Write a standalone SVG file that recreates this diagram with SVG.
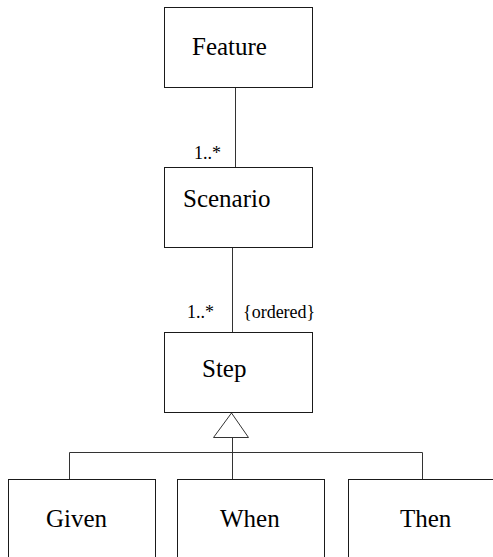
<svg xmlns="http://www.w3.org/2000/svg" width="493" height="557" viewBox="0 0 493 557">
  <style>
    .box { fill: #ffffff; stroke: #1a1a1a; stroke-width: 1; }
    .name { font-family: 'Liberation Serif', serif; font-size: 25px; fill: #000000; }
    .label { font-family: 'Liberation Serif', serif; font-size: 18px; fill: #000000; }
    .link { fill: none; stroke: #333333; stroke-width: 1; }
  </style>
  <rect width="493" height="557" fill="#ffffff"/>

  <g id="connectors">
    <!-- Feature to Scenario association -->
    <line class="link" x1="235.5" y1="87" x2="235.5" y2="168"/>
    <!-- Scenario to Step association -->
    <line class="link" x1="232.5" y1="247" x2="232.5" y2="333"/>
    <!-- generalization: Given/When/Then to Step -->
    <polygon class="link" points="231.5,413 213.5,437.5 248.5,437.5"/>
    <line class="link" x1="232.5" y1="437.5" x2="232.5" y2="483"/>
    <polyline class="link" points="69.5,479 69.5,452.5 422.5,452.5 422.5,479"/>
    <text class="label" x="194" y="159">1..*</text>
    <text class="label" x="187" y="318">1..*</text>
    <text class="label" x="243" y="318">{ordered}</text>
  </g>

  <g id="feature">
    <rect class="box" x="164.5" y="7.5" width="148" height="80"/>
    <text class="name" x="192" y="55">Feature</text>
  </g>

  <g id="scenario">
    <rect class="box" x="164.5" y="167.5" width="148" height="80"/>
    <text class="name" x="183" y="207">Scenario</text>
  </g>

  <g id="step">
    <rect class="box" x="164.5" y="332.5" width="148" height="80"/>
    <text class="name" x="202" y="377">Step</text>
  </g>

  <g id="given">
    <rect class="box" x="8.5" y="479.5" width="147" height="90"/>
    <text class="name" x="46" y="527">Given</text>
  </g>

  <g id="when">
    <rect class="box" x="177.5" y="479.5" width="147" height="90"/>
    <text class="name" x="220" y="527">When</text>
  </g>

  <g id="then">
    <rect class="box" x="348.5" y="479.5" width="160" height="90"/>
    <text class="name" x="400" y="527">Then</text>
  </g>
</svg>
